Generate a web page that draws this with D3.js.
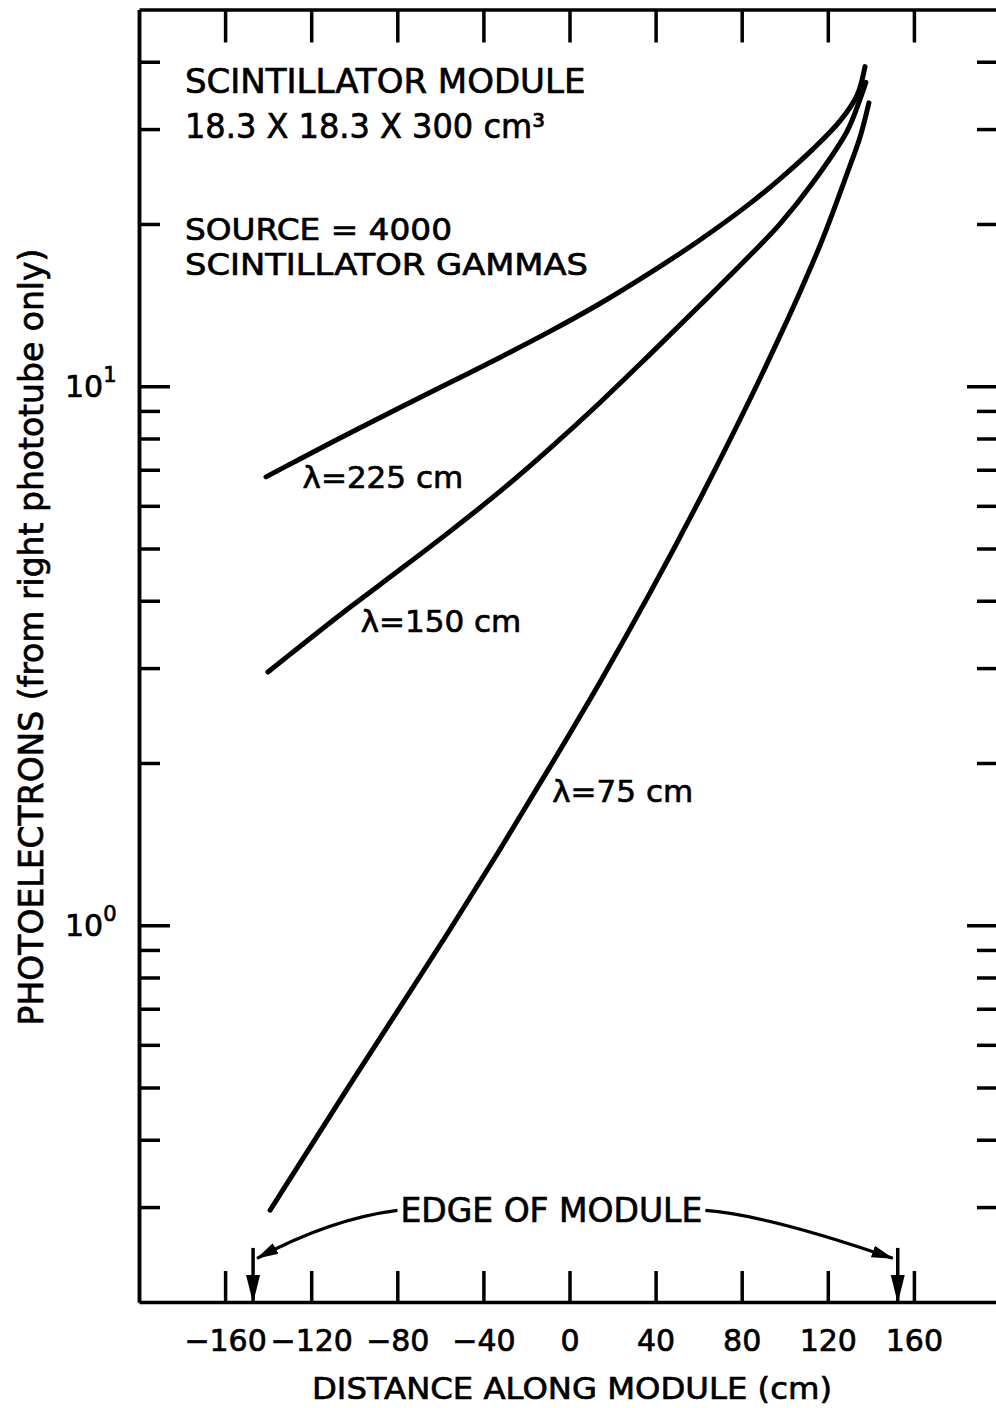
<!DOCTYPE html>
<html>
<head>
<meta charset="utf-8">
<script src="https://cdn.jsdelivr.net/npm/d3@7"></script>
<style>
  html, body { margin: 0; padding: 0; background: #fff; }
  svg { display: block; }
  text { font-family: "DejaVu Sans", sans-serif; fill: #000; stroke: #000; stroke-width: 0.7px; }
</style>
</head>
<body>
<div id="chart"></div>
<script>
// distance along module (cm) vs photoelectrons
const dist225 = [-141, -125.2, -102, -78.7, -55.5, -32.3, -9.1, 14.2, 37.4, 60.6, 83.9, 97.8, 113.1, 125.7, 133.6, 137.3];
const pe225   = [6.79, 7.33, 8.19, 9.13, 10.16, 11.31, 12.64, 14.24, 16.23, 18.68, 21.84, 24.26, 27.54, 31.07, 34.65, 39.18];

const dist150 = [-140.1, -125.2, -102, -78.7, -55.5, -32.3, -9.1, 14.2, 37.4, 60.6, 83.9, 97.8, 113.1, 128.9, 135, 137.7];
const pe150   = [2.95, 3.29, 3.89, 4.57, 5.38, 6.38, 7.67, 9.33, 11.46, 14.13, 17.5, 20.01, 23.87, 29.69, 34.1, 36.64];

const dist75 = [-139.1, -125.2, -102, -78.7, -55.5, -32.3, -9.1, 14.2, 37.4, 60.6, 83.9, 97.8, 107.1, 117.8, 128.9, 135, 139.1];
const pe75   = [0.296, 0.362, 0.506, 0.705, 0.982, 1.382, 1.967, 2.828, 4.136, 6.178, 9.47, 12.4, 14.96, 18.85, 24.77, 29.01, 33.55];

const curveLabels = ["λ=225 cm", "λ=150 cm", "λ=75 cm"];
const labelDist = [-124, -97, -8];
const labelPE = [6.48, 3.50, 1.69];

const xTicks = [-160, -120, -80, -40, 0, 40, 80, 120, 160];
const yMajorTicks = [1, 10];
const yMinorTicks = [0.3, 0.4, 0.5, 0.6, 0.7, 0.8, 0.9, 2, 3, 4, 5, 6, 7, 8, 9, 20, 30, 40];
const moduleEdges = [-147, 152.5];

const W = 996, H = 1408;

const svg = d3.select("#chart").append("svg")
    .attr("width", W)
    .attr("height", H);

const xScale = d3.scaleLinear().domain([-200, 200]).range([139, 1000]);
const yScale = d3.scaleLog().domain([0.2, 50]).range([1302, 9.5]);

const x0 = xScale.range()[0], x1 = xScale.range()[1];
const yBot = yScale.range()[0], yTop = yScale.range()[1];

const styleAxis = g => {
    g.select(".domain").attr("stroke", "#000").attr("stroke-width", 3.5);
    g.selectAll(".tick line").attr("stroke", "#000").attr("stroke-width", 3.5);
};

// bottom axis
svg.append("g")
    .attr("transform", `translate(0,${yBot})`)
    .call(d3.axisBottom(xScale).tickValues(xTicks).tickSize(-31).tickSizeOuter(0)
        .tickPadding(28).tickFormat(d3.format("d")))
    .call(styleAxis)
    .call(g => g.selectAll(".tick text")
        .style("font-family", "DejaVu Sans, sans-serif")
        .attr("font-size", 30).attr("fill", "#000"));

// top axis, no labels
svg.append("g")
    .attr("transform", `translate(0,${yTop})`)
    .call(d3.axisTop(xScale).tickValues(xTicks).tickSize(-33).tickSizeOuter(0).tickFormat(""))
    .call(styleAxis);

// left axis
svg.append("g")
    .attr("transform", `translate(${x0},0)`)
    .call(d3.axisLeft(yScale).tickValues(yMinorTicks).tickSize(-21).tickSizeOuter(0).tickFormat(""))
    .call(styleAxis);
svg.append("g")
    .attr("transform", `translate(${x0},0)`)
    .call(d3.axisLeft(yScale).tickValues(yMajorTicks).tickSize(-31).tickSizeOuter(0).tickFormat(""))
    .call(styleAxis);

// right axis
svg.append("g")
    .attr("transform", `translate(${x1},0)`)
    .call(d3.axisRight(yScale).tickValues(yMinorTicks).tickSize(-23).tickSizeOuter(0).tickFormat(""))
    .call(styleAxis);
svg.append("g")
    .attr("transform", `translate(${x1},0)`)
    .call(d3.axisRight(yScale).tickValues(yMajorTicks).tickSize(-33).tickSizeOuter(0).tickFormat(""))
    .call(styleAxis);

// 10^0, 10^1 labels
svg.append("g").selectAll("text")
    .data(yMajorTicks)
    .enter().append("text")
    .attr("x", x0 - 74)
    .attr("y", d => yScale(d) + 11)
    .attr("font-size", 30)
    .text("10")
    .append("tspan")
    .attr("dy", -15)
    .attr("font-size", 21)
    .text(d => Math.round(Math.log10(d)));

// curves
const line = d3.line()
    .x(d => xScale(d[0]))
    .y(d => yScale(d[1]))
    .curve(d3.curveCatmullRom.alpha(0.5));

const series = [
    d3.zip(dist225, pe225),
    d3.zip(dist150, pe150),
    d3.zip(dist75, pe75)
];

svg.append("g").selectAll("path")
    .data(series)
    .enter().append("path")
    .attr("d", line)
    .attr("fill", "none")
    .attr("stroke", "#000")
    .attr("stroke-width", 5)
    .attr("stroke-linecap", "round")
    .attr("stroke-linejoin", "round");

svg.append("g").selectAll("text")
    .data(curveLabels)
    .enter().append("text")
    .attr("x", (d, i) => xScale(labelDist[i]))
    .attr("y", (d, i) => yScale(labelPE[i]))
    .attr("font-size", 31)
    .text(d => d);

// header text
const nx = x0 + 46;
svg.append("text").attr("x", nx).attr("y", 93).attr("font-size", 34)
    .text("SCINTILLATOR MODULE");
svg.append("text").attr("x", nx).attr("y", 138).attr("font-size", 34)
    .attr("textLength", 360).attr("lengthAdjust", "spacingAndGlyphs")
    .text("18.3 X 18.3 X 300 cm³");
svg.append("text").attr("x", nx).attr("y", 240).attr("font-size", 31)
    .attr("textLength", 267).attr("lengthAdjust", "spacingAndGlyphs")
    .text("SOURCE = 4000");
svg.append("text").attr("x", nx).attr("y", 275).attr("font-size", 31)
    .attr("textLength", 403).attr("lengthAdjust", "spacingAndGlyphs")
    .text("SCINTILLATOR GAMMAS");

// edge-of-module annotation
const defs = svg.append("defs");
defs.append("marker")
    .attr("id", "headBig")
    .attr("markerUnits", "userSpaceOnUse")
    .attr("viewBox", "0 -8 28 16")
    .attr("refX", 27).attr("refY", 0)
    .attr("markerWidth", 28).attr("markerHeight", 16)
    .attr("orient", "auto")
    .append("path").attr("d", "M0,-7L28,0L0,7Z").attr("fill", "#000");
defs.append("marker")
    .attr("id", "headSmall")
    .attr("markerUnits", "userSpaceOnUse")
    .attr("viewBox", "0 -7 22 14")
    .attr("refX", 21).attr("refY", 0)
    .attr("markerWidth", 22).attr("markerHeight", 14)
    .attr("orient", "auto")
    .append("path").attr("d", "M0,-6L22,0L0,6Z").attr("fill", "#000");

const edgeText = svg.append("text")
    .attr("x", xScale(-8.4))
    .attr("y", yScale(0.281))
    .attr("text-anchor", "middle")
    .attr("font-size", 33)
    .text("EDGE OF MODULE");
const tb = edgeText.node().getBBox();
const midY = yScale(0.281) - 12;

svg.append("g").selectAll("line")
    .data(moduleEdges)
    .enter().append("line")
    .attr("x1", d => xScale(d)).attr("x2", d => xScale(d))
    .attr("y1", yScale(0.252)).attr("y2", yScale(0.2))
    .attr("stroke", "#000").attr("stroke-width", 3.5)
    .attr("marker-end", "url(#headBig)");

const arrowPath = (sx, sy, tx, ty, dir) => {
    const p = d3.path();
    p.moveTo(sx, sy);
    if (dir < 0) p.bezierCurveTo(sx - 48, sy + 6, tx + 45, ty - 24, tx, ty);
    else p.bezierCurveTo(sx + 55, sy + 4, tx - 55, ty - 19, tx, ty);
    return p.toString();
};

svg.append("path")
    .attr("d", arrowPath(tb.x - 3, midY, xScale(moduleEdges[0]) + 4, yScale(0.241), -1))
    .attr("fill", "none").attr("stroke", "#000").attr("stroke-width", 3.2)
    .attr("marker-end", "url(#headSmall)");
svg.append("path")
    .attr("d", arrowPath(tb.x + tb.width + 3, midY, xScale(moduleEdges[1]) - 5, yScale(0.241), 1))
    .attr("fill", "none").attr("stroke", "#000").attr("stroke-width", 3.2)
    .attr("marker-end", "url(#headSmall)");

// axis titles
svg.append("text")
    .attr("x", (x0 + 1005) / 2)
    .attr("y", 1399)
    .attr("text-anchor", "middle")
    .attr("font-size", 31)
    .attr("textLength", 520).attr("lengthAdjust", "spacingAndGlyphs")
    .text("DISTANCE ALONG MODULE (cm)");

svg.append("text")
    .attr("transform", "translate(43,637) rotate(-90)")
    .attr("text-anchor", "middle")
    .attr("font-size", 33)
    .text("PHOTOELECTRONS (from right phototube only)");
</script>
</body>
</html>
